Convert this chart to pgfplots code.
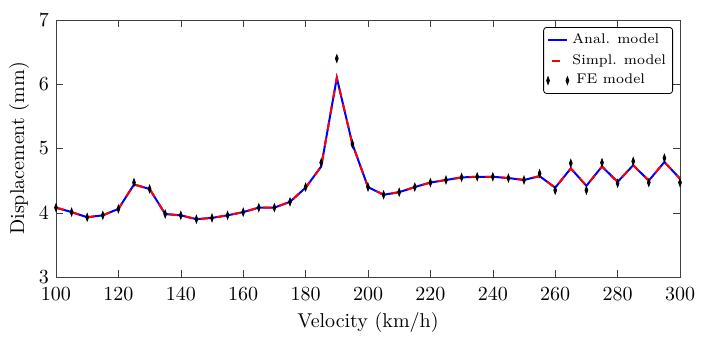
\documentclass[border=0pt]{standalone}
\usepackage{pgfplots}
\pgfplotsset{compat=1.18}
\pgfplotsset{
  blueleg/.style={legend image code/.code={\draw[blue, line width=1.1pt] (0cm,0.2pt) -- (0.34cm,0.2pt);}},
  redleg/.style={legend image code/.code={\draw[red, line width=1.1pt] (0.07cm,0cm) -- (0.27cm,0cm);}},
  twomarks/.style={legend image code/.code={\draw[##1] plot coordinates {(0cm,0cm) (0.34cm,0cm)};}}
}

\pgfplotstableread{
v   anal  fe
100 4.08 4.08
105 4.01 4.01
110 3.93 3.93
115 3.96 3.96
120 4.06 4.06
125 4.44 4.47
130 4.37 4.37
135 3.98 3.98
140 3.96 3.96
145 3.90 3.90
150 3.92 3.92
155 3.96 3.96
160 4.01 4.01
165 4.08 4.08
170 4.08 4.08
175 4.17 4.17
180 4.39 4.40
185 4.72 4.78
190 6.10 6.40
195 5.07 5.07
200 4.40 4.40
205 4.28 4.28
210 4.32 4.32
215 4.40 4.40
220 4.47 4.47
225 4.51 4.51
230 4.55 4.55
235 4.56 4.56
240 4.56 4.56
245 4.54 4.54
250 4.51 4.51
255 4.57 4.61
260 4.39 4.35
265 4.69 4.77
270 4.42 4.35
275 4.72 4.78
280 4.48 4.46
285 4.74 4.80
290 4.50 4.47
295 4.79 4.85
300 4.53 4.47
}\disp

\begin{document}
\begin{tikzpicture}
\begin{axis}[
scale only axis,
width=312pt,
height=128.5pt,
xmin=100, xmax=300,
ymin=3, ymax=7,
xtick={100,120,...,300},
ytick={3,4,5,6,7},
tick align=inside,
major tick length=3.5pt,
axis line style={black!75},
tick style={black!75},
xticklabel style={yshift=-2pt},
xlabel={Velocity (km/h)},
ylabel={Displacement (mm)},
xlabel style={yshift=1pt},
ylabel style={yshift=-2pt},
legend cell align=left,
legend style={at={(1,1)},xshift=-3.5pt,yshift=-3.5pt,anchor=north east,font=\scriptsize,
  rounded corners=1.5pt,inner sep=1.5pt,row sep=0pt,
  nodes={inner sep=1.8pt}},
]
\addplot[color=blue, line width=1pt, blueleg] table[x=v,y=anal] {\disp};
\addlegendentry{Anal. model}
\addplot[color=red, line width=1pt, dash pattern=on 4pt off 4pt, redleg] table[x=v,y=anal] {\disp};
\addlegendentry{Simpl. model}
\addplot[only marks, mark=diamond*, mark size=1.9pt, mark options={xscale=0.5,fill=black,draw=black}, twomarks]
  table[x=v,y=fe] {\disp};
\addlegendentry{\hspace{2pt}FE model}
\end{axis}
\pgfresetboundingbox
\path ([xshift=-28pt,yshift=-33pt]current axis.south west) rectangle ([xshift=13pt,yshift=10pt]current axis.north east);
\end{tikzpicture}
\end{document}
